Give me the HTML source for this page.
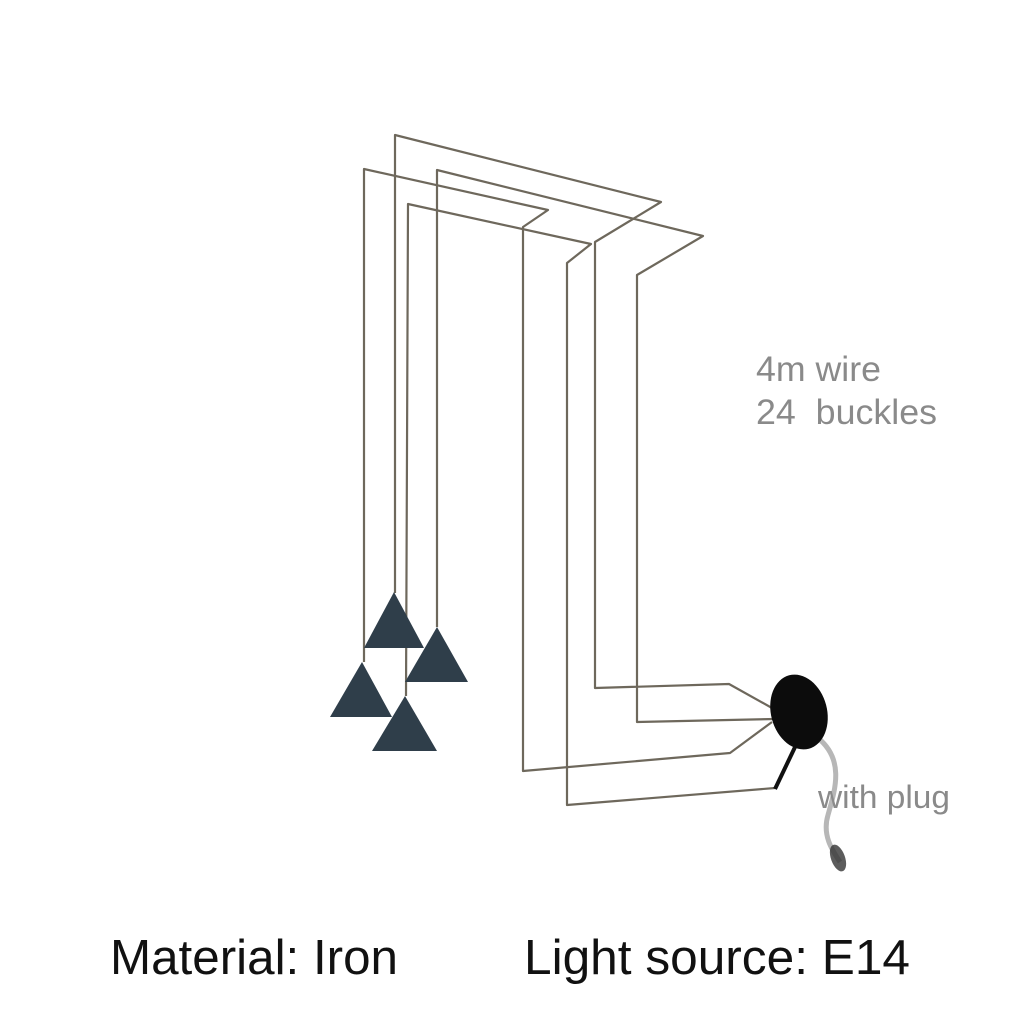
<!DOCTYPE html>
<html><head><style>
html,body{margin:0;padding:0;background:#fff;}
svg{display:block}
</style></head><body>
<svg width="1024" height="1024" viewBox="0 0 1024 1024" xmlns="http://www.w3.org/2000/svg">
<g fill="none" stroke="#6e685c" stroke-width="2.2" stroke-linejoin="round">
<polyline points="395,593 395,135 661,202 595,242 595,688 729,684 772,708"/>
<polyline points="364,662 364,169 548,210 523,227 523,771 730,753 772,722"/>
<polyline points="437,627 437,170 703,236 637,275 637,722 775,719"/>
<polyline points="406,696 408,204 591,244 567,263 567,805 775,788"/>
</g>
<line x1="775" y1="789" x2="796" y2="745" stroke="#111" stroke-width="4"/>
<path d="M818,738 C845,760 835,790 828,815 C822,835 832,850 840,862" fill="none" stroke="#999" stroke-width="5" opacity="0.7"/>
<ellipse cx="838" cy="858" rx="7" ry="14" fill="#333" opacity="0.8" transform="rotate(-20 838 858)"/>
<ellipse cx="799" cy="712" rx="28" ry="38" fill="#0c0c0c" transform="rotate(-15 799 712)"/>
<g fill="#2f3e4a">
<polygon points="394,592 364,648 424,648"/>
<polygon points="437,627 405,682 468,682"/>
<polygon points="362,662 330,717 392,717"/>
<polygon points="405,696 372,751 437,751"/>
</g>
<g font-family="Liberation Sans, sans-serif" fill="#8a8a8a" font-size="35">
<text x="756" y="381" textLength="125" lengthAdjust="spacingAndGlyphs">4m wire</text>
<text x="756" y="424" xml:space="preserve" textLength="181" lengthAdjust="spacingAndGlyphs">24  buckles</text>
<text x="818" y="808" font-size="32" textLength="132" lengthAdjust="spacingAndGlyphs">with plug</text>
</g>
<g font-family="Liberation Sans, sans-serif" fill="#111" font-size="49">
<text x="110" y="974" textLength="288" lengthAdjust="spacingAndGlyphs">Material: Iron</text>
<text x="524" y="974" textLength="386" lengthAdjust="spacingAndGlyphs">Light source: E14</text>
</g>
</svg>
</body></html>
